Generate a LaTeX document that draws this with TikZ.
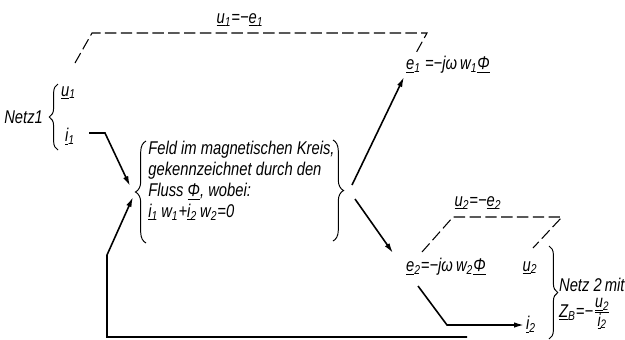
\documentclass[tikz,border=0pt]{standalone}
\usepackage{fontspec}
\setmainfont{Liberation Sans}[FakeStretch=0.8]
\usetikzlibrary{positioning, arrows.meta, decorations.pathreplacing}
\newcommand{\uv}[2]{\underline{#1}\textsubscript{#2}}
\newcommand{\phiv}{\underline{Φ}}

\begin{document}
\begin{tikzpicture}[x=0.02cm, y=-0.02cm,
      font=\itshape\fontsize{10.5}{11.9}\selectfont,
      lbl/.style={inner sep=1pt},
      arr/.style={-{Latex[length=2mm, width=1.1mm]}, line width=0.9pt},
      dsh/.style={dash pattern=on 6.5pt off 2.5pt, line width=0.6pt},
      brc/.style={decorate, decoration={brace, amplitude=#1}, line width=0.55pt},
      brc/.default=5pt]
    \useasboundingbox (0,0) rectangle (625,339);
    \node[lbl, anchor=west] (u1) at (59,93) {\uv{u}{1}};
    \node[lbl, anchor=west] (i1) at (63,137) {\uv{i}{1}};
    \node[lbl, anchor=east] (netzA) at (45,117) {Netz1};
    \node[lbl] (u1e1) at (240,20) {\uv{u}{1}=−\uv{e}{1}};
    \node[lbl, anchor=west, inner sep=0pt, align=left] (fld) at (148,181)
      {Feld im magnetischen Kreis,\\ gekennzeichnet durch den\\ Fluss \phiv, wobei:\\
       \uv{i}{1}\,w\textsubscript{1}+\uv{i}{2}\,w\textsubscript{2}=0};
    \node[lbl, anchor=west] (e1) at (404,65) {\uv{e}{1} =−jω\,w\textsubscript{1}\phiv};
    \node[lbl, anchor=west] (e2) at (404,267) {\uv{e}{2}=−jω\,w\textsubscript{2}\phiv};
    \node[lbl] (u2e2) at (478,203) {\uv{u}{2}=−\uv{e}{2}};
    \node[lbl] (u2) at (530,268) {\uv{u}{2}};
    \node[lbl, anchor=west] (i2) at (524,325) {\uv{i}{2}};
    \node[lbl, anchor=west] (netzB) at (557,285) {Netz 2\,mit};
    \node[lbl, anchor=west] (zb) at (557,314)
      {\uv{Z}{B}=−$\frac{\hbox{\fontsize{10}{11}\itshape\uv{u}{2}}}{\hbox{\fontsize{10}{11}\itshape\uv{i}{2}}}$};
    \coordinate (fL1) at (130,186);
    \coordinate (fL2) at (133,197);
    \coordinate (fR1) at (352,185);
    \coordinate (fR2) at (355,199);
    \coordinate (i1o) at (89,133);
    \coordinate (e1i) at (404,77);
    \coordinate (e2i) at (393,253);
    \coordinate (e2o) at (418,286);
    \coordinate (i2o) at (467,337);
    \draw[brc] (58,150) -- (58,84);
    \draw[brc=6pt] (146,243) -- (146,141);
    \draw[brc=6pt] (333,140) -- (333,241);
    \draw[brc] (549,246) -- (549,339);
    \draw[dsh] (75,63) -- (92,33) -- (427,33) -- (416,53);
    \draw[dsh] (422,252) -- (453,217) -- (562,217) -- (533,248);
    \draw[arr] (i1o) -- (105,133) -- (fL1);
    \draw[arr] (i2o) -- (107,337) -- (107,255) -- (fL2);
    \draw[arr] (fR1) -- (e1i);
    \draw[arr] (fR2) -- (e2i);
    \draw[arr] (e2o) -- (447,325) -- (i2.west);
  \end{tikzpicture}
\end{document}
